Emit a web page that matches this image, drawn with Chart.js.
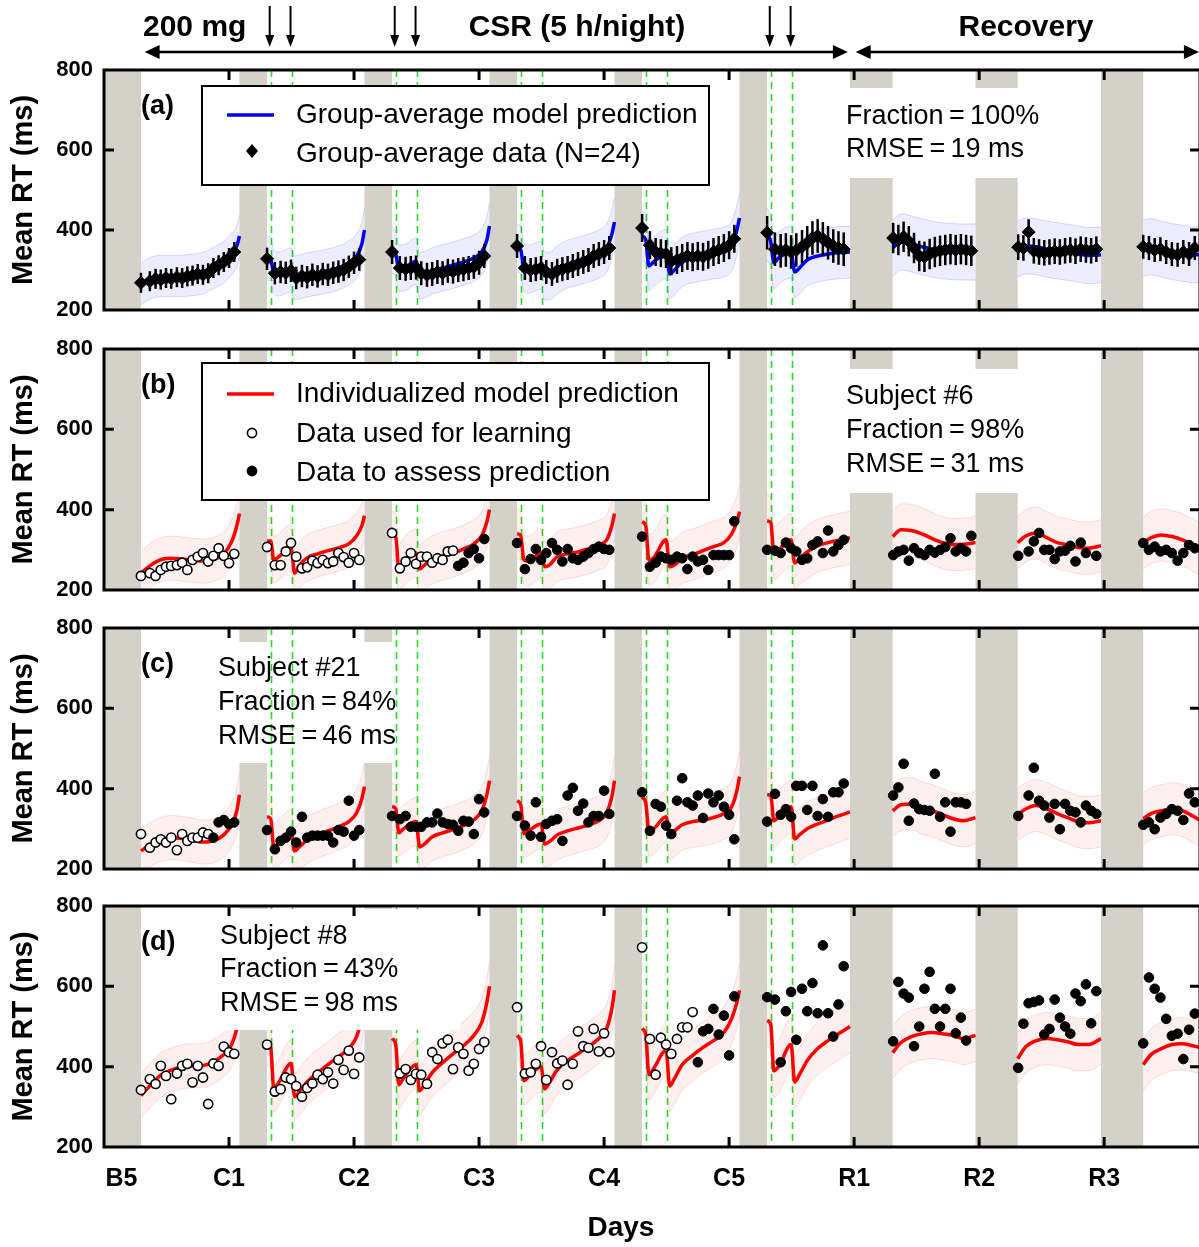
<!DOCTYPE html>
<html>
<head>
<meta charset="utf-8">
<script src="https://cdn.jsdelivr.net/npm/chart.js@4.4.1/dist/chart.umd.min.js"></script>
<style>
html, body { margin: 0; padding: 0; background: #fff; overflow: hidden; width: 1199px; height: 1247px; }
canvas { position: absolute; left: 0; }
</style>
</head>
<body>
<canvas id="pa" width="1210" height="330" style="top:0px"></canvas>
<canvas id="pb" width="1210" height="280" style="top:330px"></canvas>
<canvas id="pc" width="1210" height="278" style="top:610px"></canvas>
<canvas id="pd" width="1210" height="359" style="top:888px"></canvas>
<script>
// hours since midnight of day B5
var dayLabels = ['B5', 'C1', 'C2', 'C3', 'C4', 'C5', 'R1', 'R2', 'R3'];
var dayTicks = [0, 24, 48, 72, 96, 120, 144, 168, 192];
var yTicks = [200, 400, 600, 800];
var sleepBars = [[0, 7.1], [26, 31.3], [50, 55.3], [74, 79.3], [98, 103.3], [122, 127.3], [143.2, 151.4], [167.3, 175.4], [191.4, 199.5]];
var caffeineHours = [32, 36, 56, 60, 80, 84, 104, 108, 128, 132];
var dose200Hours = [32, 36, 56, 60, 128, 132];

// test sessions (one row per day)
var sessionHours = [
  [7.1, 8.8, 9.9, 10.9, 11.9, 12.9, 14, 15, 16, 17, 18, 19, 20, 21, 22, 23, 24, 25],
  [31.3, 32.8, 33.9, 34.9, 35.9, 36.9, 38, 39, 40, 41, 42, 43, 44, 45, 46, 47, 48, 49],
  [55.3, 56.8, 57.9, 58.9, 59.9, 60.9, 62, 63, 64, 65, 66, 67, 68, 69, 70, 71, 72, 73],
  [79.3, 80.8, 81.9, 82.9, 83.9, 84.9, 86, 87, 88, 89, 90, 91, 92, 93, 94, 95, 96, 97],
  [103.3, 104.8, 105.9, 106.9, 107.9, 108.9, 110, 111, 112, 113, 114, 115, 116, 117, 118, 119, 120, 121],
  [127.3, 128.8, 129.9, 130.9, 131.9, 132.9, 134, 135, 136, 137, 138, 139, 140, 141, 142],
  [151.5, 152.5, 153.5, 154.5, 155.5, 156.5, 157.5, 158.5, 159.5, 160.5, 161.5, 162.5, 163.5, 164.5, 165.5, 166.5],
  [175.5, 176.5, 177.5, 178.5, 179.5, 180.5, 181.5, 182.5, 183.5, 184.5, 185.5, 186.5, 187.5, 188.5, 189.5, 190.5],
  [199.5, 200.6, 201.7, 202.8, 203.9, 205, 206.1, 207.2, 208.3, 209.4]
];

// (a) group-average data and its error bars (half-width per day)
var rtA = [
  [268, 272, 278, 276, 280, 278, 282, 280, 284, 286, 290, 288, 292, 305, 312, 320, 330, 345],
  [328, 292, 295, 293, 298, 280, 285, 282, 288, 284, 290, 288, 293, 296, 300, 308, 318, 326],
  [345, 305, 303, 305, 306, 292, 288, 290, 295, 292, 298, 296, 300, 302, 305, 308, 318, 335],
  [360, 305, 300, 302, 305, 295, 290, 298, 302, 305, 310, 315, 320, 325, 335, 340, 345, 355],
  [405, 362, 345, 342, 340, 322, 325, 330, 335, 332, 335, 333, 338, 345, 350, 355, 362, 378],
  [393, 352, 348, 350, 345, 350, 358, 368, 380, 385, 378, 368, 360, 355, 352],
  [380, 375, 383, 372, 355, 335, 333, 340, 345, 348, 350, 352, 350, 352, 350, 348],
  [357, 355, 395, 348, 345, 343, 345, 347, 345, 348, 350, 347, 352, 350, 348, 352],
  [358, 355, 350, 352, 345, 340, 338, 345, 340, 355]
];
var errA = [25, 28, 30, 30, 35, 42, 38, 32, 30];

// (b) subject #6, (c) subject #21, (d) subject #8
var rtB = [
  [235, 242, 235, 250, 258, 260, 262, 268, 250, 275, 283, 292, 271, 285, 304, 285, 267, 290],
  [307, 262, 262, 296, 317, 283, 254, 257, 273, 267, 275, 267, 271, 292, 282, 268, 292, 275],
  [342, 254, 271, 292, 265, 283, 283, 268, 279, 275, 296, 298, 260, 268, 292, 302, 279, 327],
  [317, 252, 277, 302, 275, 292, 317, 300, 271, 302, 279, 275, 283, 292, 302, 308, 302, 300],
  [333, 258, 268, 283, 279, 275, 283, 279, 252, 283, 271, 275, 250, 287, 287, 287, 287, 371],
  [300, 298, 292, 318, 304, 296, 275, 279, 312, 321, 292, 348, 296, 312, 325],
  [287, 296, 300, 273, 304, 292, 287, 300, 293, 300, 307, 329, 296, 304, 296, 335],
  [285, null, 296, 321, 342, 300, 300, 277, 296, 298, 310, 271, 318, 292, null, 285],
  [317, 300, 308, 296, 300, 292, 273, 292, 312, 304]
];
var rtC = [
  [287, 253, 266, 274, 266, 278, 247, 287, 270, 278, 278, 291, 287, 278, 316, 322, 312, 316],
  [297, 249, 270, 278, 293, 266, 330, 278, 283, 283, 283, 283, 266, 297, 293, 370, 283, 297],
  [332, 324, 332, 305, 305, 305, 316, 316, 338, 316, 312, 310, 295, 320, 318, 287, 374, 341],
  [332, 308, 283, 366, 280, 312, 320, 324, 270, 383, 402, 345, 363, 316, 332, 332, 395, 337],
  [391, 295, 362, 355, 308, 287, 370, 426, 366, 358, 383, 327, 388, 366, 383, 355, 335, 274],
  [318, 387, 335, 349, 330, 407, 407, 347, 407, 332, 374, 330, 391, 391, 413],
  [383, 403, 462, 320, 363, 349, 347, 345, 437, 330, 366, 293, 366, 366, 362, null],
  [332, null, 383, 452, 370, 358, 328, 362, 299, 362, 345, 341, 316, 358, 345, 337],
  [310, 316, 299, 328, 337, 349, 345, 322, 388, 366]
];
var rtD = [
  [342, 369, 357, 402, 377, 319, 383, 402, 407, 361, 402, 373, 307, 408, 402, 450, 436, 432],
  [455, 338, 344, 373, 369, 352, 325, 347, 358, 380, 369, 386, 358, 417, 392, 440, 382, 423],
  [null, 383, 394, 367, 382, 380, 357, 436, 419, 458, 467, 394, 448, 432, 390, 407, 444, 461],
  [548, 383, 386, 407, 451, 367, 436, 408, 415, 355, 407, 488, 451, 447, 494, 438, 483, 436],
  [697, 469, 380, 472, 455, 432, 469, 498, 498, 536, 411, 488, 494, 544, 480, 527, 428, 575],
  [573, 567, 411, 538, 586, 467, 594, 538, 608, 533, 702, 533, 475, 555, 650],
  [463, 611, 582, 572, 451, 500, 594, 636, 544, 500, 544, 594, 483, 522, 465, null],
  [397, 507, 558, 561, 565, 480, 494, 567, 522, 500, 482, 582, 563, 605, 508, 588],
  [458, 622, 594, 572, 519, 477, 482, 419, 492, 532]
];

// model prediction curves, sampled at these hours (one row per day)
var modelHours = [
  [7.1, 9, 11, 13, 15, 17, 19, 21, 23, 24.5, 25.5, 26],
  [31.3, 32, 32.6, 33.5, 35.9, 36.6, 37.5, 39, 41, 43, 45, 47, 48.5, 49.5, 50],
  [55.3, 56, 56.6, 57.5, 59.9, 60.6, 61.5, 63, 65, 67, 69, 71, 72.5, 73.5, 74],
  [79.3, 80, 80.6, 81.5, 83.9, 84.6, 85.5, 87, 89, 91, 93, 95, 96.5, 97.5, 98],
  [103.3, 104, 104.6, 105.5, 107.9, 108.6, 109.5, 111, 113, 115, 117, 119, 120.5, 121.5, 122],
  [127.3, 128, 128.6, 129.5, 131.9, 132.6, 133.5, 135, 137, 139, 141, 143.2],
  [151.4, 153, 155, 157, 159, 161, 163, 165, 167.3],
  [175.4, 177, 179, 181, 183, 185, 187, 189, 191.4],
  [199.5, 201, 203, 205, 207, 209, 210.3]
];
var modelA = [
  [265, 280, 285, 285, 285, 288, 292, 305, 320, 340, 360, 385],
  [330, 325, 295, 290, 300, 280, 282, 288, 292, 298, 305, 318, 335, 365, 400],
  [350, 340, 305, 305, 322, 285, 288, 298, 305, 312, 320, 330, 345, 375, 410],
  [355, 350, 305, 302, 312, 285, 285, 300, 315, 322, 330, 340, 355, 390, 420],
  [385, 375, 310, 320, 340, 290, 300, 320, 330, 335, 340, 345, 360, 400, 430],
  [390, 370, 318, 330, 345, 295, 305, 325, 335, 340, 343, 345],
  [355, 370, 365, 358, 352, 348, 346, 345, 345],
  [352, 360, 358, 352, 348, 344, 340, 336, 338],
  [355, 358, 352, 346, 342, 338, 338]
];
var modelB = [
  [242, 262, 276, 279, 277, 274, 272, 276, 290, 320, 360, 390],
  [322, 322, 275, 282, 305, 242, 262, 280, 290, 298, 305, 315, 335, 360, 385],
  [335, 333, 252, 270, 292, 252, 262, 275, 285, 292, 302, 315, 335, 370, 400],
  [340, 335, 275, 272, 292, 258, 262, 283, 290, 295, 302, 312, 325, 360, 390],
  [370, 360, 275, 280, 325, 258, 262, 280, 288, 298, 308, 318, 340, 370, 395],
  [372, 368, 292, 300, 325, 267, 278, 295, 310, 318, 324, 330],
  [333, 350, 348, 340, 328, 318, 313, 314, 318],
  [318, 335, 342, 330, 318, 312, 306, 304, 310],
  [317, 330, 337, 333, 325, 312, 302]
];
var modelC = [
  [245, 262, 274, 278, 276, 272, 267, 270, 285, 310, 345, 385],
  [330, 325, 255, 265, 290, 245, 255, 272, 285, 295, 305, 318, 340, 375, 405],
  [355, 350, 290, 300, 318, 255, 262, 280, 290, 298, 308, 322, 345, 385, 420],
  [370, 360, 288, 295, 312, 262, 268, 285, 295, 302, 310, 320, 340, 380, 420],
  [378, 365, 295, 300, 330, 287, 295, 310, 318, 322, 328, 338, 355, 395, 430],
  [385, 383, 320, 330, 355, 275, 285, 300, 312, 322, 332, 342],
  [345, 360, 362, 352, 345, 335, 325, 320, 328],
  [335, 350, 358, 350, 338, 328, 318, 315, 320],
  [325, 338, 345, 350, 345, 332, 322]
];
var modelD = [
  [328, 355, 380, 392, 400, 402, 403, 412, 430, 455, 495, 530],
  [462, 450, 345, 360, 408, 325, 338, 362, 385, 405, 425, 445, 475, 520, 560],
  [470, 455, 355, 372, 405, 340, 355, 385, 410, 432, 452, 478, 510, 560, 600],
  [478, 462, 365, 375, 400, 345, 360, 392, 415, 432, 450, 470, 495, 545, 590],
  [495, 480, 380, 395, 440, 352, 370, 405, 428, 448, 465, 485, 520, 560, 590],
  [515, 505, 390, 400, 455, 362, 380, 415, 445, 465, 482, 500],
  [435, 460, 475, 482, 485, 482, 478, 470, 478],
  [420, 450, 465, 470, 467, 462, 455, 455, 470],
  [405, 430, 445, 455, 457, 452, 448]
];
// half-width of the shaded prediction band, per day
var bandHalfA = [52, 55, 58, 60, 62, 65, 70, 70, 70];
var bandHalfRed = [55, 58, 60, 62, 64, 66, 65, 65, 65];

var FONT = '"Liberation Sans", Arial, Helvetica, sans-serif';
var TS = '\u2009';

function curve(values, half, sign) {
  var out = [];
  modelHours.forEach(function(hs, d) {
    hs.forEach(function(h, i) {
      var v = values[d][i];
      if (half) v = v + sign * half[d];
      out.push({x: h, y: v});
    });
    out.push({x: hs[hs.length - 1] + 0.2, y: null});
  });
  return out;
}

function points(values, keep) {
  var out = [];
  sessionHours.forEach(function(hs, d) {
    hs.forEach(function(h, i) {
      var v = values[d][i];
      if (v !== null && keep(h)) out.push({x: h, y: v});
    });
  });
  return out;
}

function text(ctx, s, x, y, font, align) {
  ctx.font = font;
  ctx.fillStyle = '#000';
  ctx.textAlign = align || 'left';
  ctx.textBaseline = 'middle';
  ctx.fillText(s, x, y);
}

function arrowHead(ctx, x, y, dx, dy, len, w) {
  ctx.beginPath();
  ctx.moveTo(x, y);
  ctx.lineTo(x - dx * len - dy * w, y - dy * len - dx * w);
  ctx.lineTo(x - dx * len + dy * w, y - dy * len + dx * w);
  ctx.closePath();
  ctx.fill();
}

function drawBox(ctx, a, b) {
  ctx.fillStyle = '#fff';
  ctx.fillRect(a.left + b.x, a.top + b.y, b.w, b.h);
  if (b.border) {
    ctx.strokeStyle = '#000';
    ctx.lineWidth = 2;
    ctx.setLineDash([]);
    ctx.strokeRect(a.left + b.x, a.top + b.y, b.w, b.h);
  }
}

function makeDecor(cfg) {
  return {
    id: 'decor',
    beforeDatasetsDraw: function(chart) {
      var ctx = chart.ctx, a = chart.chartArea, xs = chart.scales.x;
      ctx.save();
      ctx.beginPath();
      ctx.rect(a.left, a.top, a.right - a.left, a.bottom - a.top);
      ctx.clip();
      ctx.fillStyle = '#d4d2c8';
      sleepBars.forEach(function(b) {
        var x0 = xs.getPixelForValue(b[0]), x1 = xs.getPixelForValue(b[1]);
        ctx.fillRect(x0, a.top, x1 - x0, a.bottom - a.top);
      });
      cfg.boxes.forEach(function(b) { if (b.under) drawBox(ctx, a, b); });
      ctx.strokeStyle = '#22e022';
      ctx.lineWidth = 1.6;
      ctx.setLineDash([7, 5]);
      caffeineHours.forEach(function(h) {
        var xp = Math.round(xs.getPixelForValue(h)) + 0.5;
        ctx.beginPath();
        ctx.moveTo(xp, a.top);
        ctx.lineTo(xp, a.bottom);
        ctx.stroke();
      });
      ctx.restore();
    },
    afterDatasetDraw: function(chart, args) {
      if (!cfg.err || args.index !== 1) return;
      var ctx = chart.ctx, xs = chart.scales.x, ys = chart.scales.y;
      ctx.save();
      ctx.strokeStyle = '#000';
      ctx.lineWidth = 2.5;
      sessionHours.forEach(function(hs, d) {
        hs.forEach(function(h, i) {
          var v = cfg.rt[d][i];
          if (v === null) return;
          var xp = xs.getPixelForValue(h);
          ctx.beginPath();
          ctx.moveTo(xp, ys.getPixelForValue(v - cfg.err[d]));
          ctx.lineTo(xp, ys.getPixelForValue(v + cfg.err[d]));
          ctx.stroke();
        });
      });
      ctx.restore();
    },
    afterDatasetsDraw: function(chart) {
      var ctx = chart.ctx, a = chart.chartArea;
      ctx.save();
      cfg.boxes.forEach(function(b) { if (!b.under) drawBox(ctx, a, b); });
      cfg.legend.forEach(function(it) {
        var x = a.left + 148, y = a.top + it.y;
        if (it.kind === 'line') {
          ctx.strokeStyle = it.color;
          ctx.lineWidth = 3.5;
          ctx.beginPath();
          ctx.moveTo(x - 25, y);
          ctx.lineTo(x + 22, y);
          ctx.stroke();
        } else if (it.kind === 'diamond') {
          ctx.fillStyle = '#000';
          ctx.beginPath();
          ctx.moveTo(x, y - 7); ctx.lineTo(x + 6, y); ctx.lineTo(x, y + 7); ctx.lineTo(x - 6, y);
          ctx.closePath();
          ctx.fill();
        } else {
          ctx.beginPath();
          ctx.arc(x, y, 4.6, 0, Math.PI * 2);
          ctx.fillStyle = it.kind === 'open' ? '#fff' : '#000';
          ctx.fill();
          ctx.strokeStyle = '#000';
          ctx.lineWidth = 1.6;
          ctx.stroke();
        }
        text(ctx, it.label, a.left + 192, a.top + it.ty, '28px ' + FONT);
      });
      text(ctx, cfg.tag, a.left + 37, a.top + 37, 'bold 27px ' + FONT);
      cfg.notes.forEach(function(n) {
        text(ctx, n[0], a.left + n[1], a.top + n[2], '27px ' + FONT);
      });
      ctx.restore();
    },
    afterDraw: function(chart) {
      var ctx = chart.ctx, a = chart.chartArea, xs = chart.scales.x, ys = chart.scales.y;
      ctx.save();
      ctx.strokeStyle = '#000';
      ctx.lineWidth = 3;
      ctx.setLineDash([]);
      ctx.strokeRect(a.left, a.top, a.right - a.left, a.bottom - a.top);
      dayTicks.forEach(function(v) {
        if (v === 0) return;
        var xp = xs.getPixelForValue(v);
        ctx.beginPath();
        ctx.moveTo(xp, a.top); ctx.lineTo(xp, a.top + 10);
        ctx.moveTo(xp, a.bottom); ctx.lineTo(xp, a.bottom - 10);
        ctx.stroke();
      });
      [400, 600].forEach(function(v) {
        var yp = ys.getPixelForValue(v);
        ctx.beginPath();
        ctx.moveTo(a.left, yp); ctx.lineTo(a.left + 10, yp);
        ctx.moveTo(a.right, yp); ctx.lineTo(a.right - 10, yp);
        ctx.stroke();
      });
      if (cfg.header) {
        var hf = 'bold 30px ' + FONT;
        text(ctx, '200 mg', 143, 28, hf);
        text(ctx, 'CSR (5 h/night)', xs.getPixelForValue(90.8), 28, hf, 'center');
        text(ctx, 'Recovery', xs.getPixelForValue(177), 28, hf, 'center');
        ctx.fillStyle = '#000';
        ctx.lineWidth = 2;
        dose200Hours.forEach(function(h) {
          var xp = xs.getPixelForValue(h) - 1;
          ctx.beginPath(); ctx.moveTo(xp, 6); ctx.lineTo(xp, 38); ctx.stroke();
          arrowHead(ctx, xp, 47, 0, 1, 12, 4.5);
        });
        ctx.lineWidth = 2.5;
        [[7.8, 142.8], [144.3, 210.2]].forEach(function(s) {
          var x0 = xs.getPixelForValue(s[0]), x1 = xs.getPixelForValue(s[1]);
          ctx.beginPath(); ctx.moveTo(x0 + 8, 52); ctx.lineTo(x1 - 8, 52); ctx.stroke();
          arrowHead(ctx, x0, 52, -1, 0, 15, 7);
          arrowHead(ctx, x1, 52, 1, 0, 15, 7);
        });
      }
      ctx.restore();
    }
  };
}

function makeChart(cfg) {
  var datasets = [];
  if (cfg.err) {
    datasets.push({
      data: points(cfg.rt, function() { return true; }), showLine: false,
      pointStyle: 'rectRot', pointRadius: 6.5, backgroundColor: '#000', borderColor: '#000', borderWidth: 1
    });
  } else {
    datasets.push({
      data: points(cfg.rt, function(h) { return h >= cfg.learnEnd; }), showLine: false,
      pointRadius: 4.8, backgroundColor: '#000', borderColor: '#000', borderWidth: 1
    });
    datasets.push({
      data: points(cfg.rt, function(h) { return h < cfg.learnEnd; }), showLine: false,
      pointRadius: 4.6, backgroundColor: '#fff', borderColor: '#000', borderWidth: 1.6
    });
  }
  var lowIndex = datasets.length + 1;
  datasets.push({
    data: curve(cfg.model), borderColor: cfg.color, borderWidth: 3.5, pointRadius: 0,
    cubicInterpolationMode: 'monotone', fill: false
  });
  datasets.push({
    data: curve(cfg.model, cfg.half, -1), borderColor: cfg.bandEdge, borderWidth: 1, pointRadius: 0,
    cubicInterpolationMode: 'monotone', fill: false
  });
  datasets.push({
    data: curve(cfg.model, cfg.half, 1), borderColor: cfg.bandEdge, borderWidth: 1, pointRadius: 0,
    cubicInterpolationMode: 'monotone', fill: lowIndex, backgroundColor: cfg.bandFill
  });

  new Chart(document.getElementById(cfg.id), {
    type: 'line',
    data: {datasets: datasets},
    options: {
      responsive: false,
      animation: false,
      events: [],
      spanGaps: false,
      layout: {padding: {top: cfg.padTop, bottom: cfg.padBottom, left: 0, right: 10}},
      plugins: {legend: {display: false}, tooltip: {enabled: false}},
      scales: {
        x: {
          type: 'linear', min: 0, max: 210.4, display: cfg.showX,
          afterBuildTicks: function(s) { s.ticks = dayTicks.map(function(v) { return {value: v}; }); },
          afterFit: function(s) {
            if (cfg.showX) s.height = 100;
            s.paddingLeft = 0; s.paddingRight = 0;
          },
          grid: {display: false, drawTicks: false},
          border: {display: false},
          ticks: {
            autoSkip: false, maxRotation: 0, padding: 17, color: '#000',
            font: {family: FONT, size: 25, weight: 'bold'},
            callback: function(v) {
              var i = dayTicks.indexOf(v);
              return i === 0 ? '     ' + dayLabels[0] : dayLabels[i];
            }
          },
          title: {
            display: true, text: 'Days        ', color: '#000',
            font: {family: FONT, size: 28, weight: 'bold'}, padding: {top: 0, bottom: 2}
          }
        },
        y: {
          min: 200, max: 800,
          afterBuildTicks: function(s) { s.ticks = yTicks.map(function(v) { return {value: v}; }); },
          afterFit: function(s) { s.width = 104; s.paddingTop = 0; s.paddingBottom = 0; },
          grid: {display: false, drawTicks: false},
          border: {display: false},
          ticks: {padding: 11, color: '#000', font: {family: FONT, size: 22, weight: 'bold'}},
          title: {
            display: true, text: 'Mean RT (ms)', color: '#000',
            font: {family: FONT, size: 29, weight: 'bold'}, padding: {top: 7, bottom: 0}
          }
        }
      }
    },
    plugins: [makeDecor(cfg)]
  });
}

var blue = {color: '#0000ff', bandFill: 'rgba(0,0,255,0.07)', bandEdge: 'rgba(0,0,255,0.14)'};
var red = {color: '#ff0000', bandFill: 'rgba(255,0,0,0.06)', bandEdge: 'rgba(255,0,0,0.13)'};

function eq(a, b) { return a + TS + '=' + TS + b; }

makeChart({
  id: 'pa', padTop: 70, padBottom: 20, showX: false, header: true,
  color: blue.color, bandFill: blue.bandFill, bandEdge: blue.bandEdge,
  rt: rtA, err: errA, model: modelA, half: bandHalfA, tag: '(a)',
  boxes: [{x: 98, y: 16, w: 507, h: 99, border: true}, {x: 726, y: 18, w: 210, h: 90}],
  legend: [
    {kind: 'line', color: '#0000ff', y: 45, ty: 45, label: 'Group-average model prediction'},
    {kind: 'diamond', y: 81, ty: 84, label: 'Group-average data (N=24)'}
  ],
  notes: [[eq('Fraction', '100%'), 742, 47], [eq('RMSE', '19 ms'), 742, 80]]
});

makeChart({
  id: 'pb', padTop: 19, padBottom: 20, showX: false,
  color: red.color, bandFill: red.bandFill, bandEdge: red.bandEdge,
  rt: rtB, learnEnd: 67.5, model: modelB, half: bandHalfRed, tag: '(b)',
  boxes: [{x: 98, y: 14, w: 507, h: 137, border: true}, {x: 726, y: 20, w: 210, h: 124}],
  legend: [
    {kind: 'line', color: '#ff0000', y: 45, ty: 45, label: 'Individualized model prediction'},
    {kind: 'open', y: 84, ty: 85, label: 'Data used for learning'},
    {kind: 'filled', y: 122, ty: 124, label: 'Data to assess prediction'}
  ],
  notes: [['Subject #6', 742, 48], [eq('Fraction', '98%'), 742, 82], [eq('RMSE', '31 ms'), 742, 116]]
});

makeChart({
  id: 'pc', padTop: 18, padBottom: 19, showX: false,
  color: red.color, bandFill: red.bandFill, bandEdge: red.bandEdge,
  rt: rtC, learnEnd: 20.5, model: modelC, half: bandHalfRed, tag: '(c)',
  boxes: [{x: 101, y: 14, w: 225, h: 121, under: true}],
  legend: [],
  notes: [['Subject #21', 114, 41], [eq('Fraction', '84%'), 114, 75], [eq('RMSE', '46 ms'), 114, 109]]
});

makeChart({
  id: 'pd', padTop: 18, padBottom: 0, showX: true,
  color: red.color, bandFill: red.bandFill, bandEdge: red.bandEdge,
  rt: rtD, learnEnd: 113.5, model: modelD, half: bandHalfRed, tag: '(d)',
  boxes: [{x: 101, y: 3, w: 255, h: 121}],
  legend: [],
  notes: [['Subject #8', 116, 31], [eq('Fraction', '43%'), 116, 64], [eq('RMSE', '98 ms'), 116, 98]]
});
</script>
</body>
</html>
